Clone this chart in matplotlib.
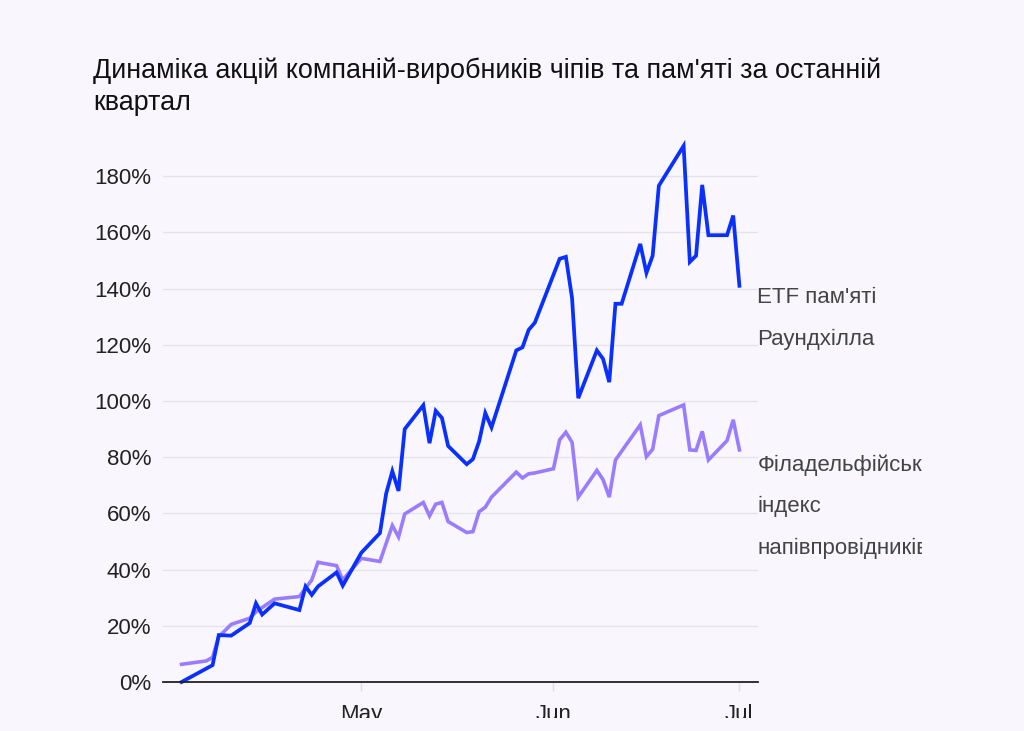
import pandas as pd
import matplotlib
matplotlib.use("Agg")
import matplotlib.pyplot as plt
from matplotlib.ticker import FuncFormatter
from matplotlib.transforms import Bbox, TransformedBbox

plt.rcParams['font.family'] = ['Liberation Sans', 'DejaVu Sans']

# дані (% зміни від початку кварталу)
etf_dates = ["04-02", "04-07", "04-08", "04-10", "04-13", "04-14", "04-15", "04-17",
             "04-21", "04-22", "04-23", "04-24", "04-27", "04-28",
             "05-01", "05-04", "05-05", "05-06", "05-07", "05-08", "05-11", "05-12",
             "05-13", "05-14", "05-15", "05-18", "05-19", "05-20", "05-21", "05-22",
             "05-26", "05-27", "05-28", "05-29",
             "06-02", "06-03", "06-04", "06-05", "06-08", "06-09", "06-10", "06-11",
             "06-12", "06-15", "06-16", "06-17", "06-18", "06-22", "06-23", "06-24",
             "06-25", "06-26", "06-29", "06-30", "07-01"]
etf_vals = [0, 6, 16.7, 16.5, 21, 28, 24, 28, 25.6, 34, 31, 34, 39, 34.3,
            46, 53, 67, 75, 68, 90, 98.5, 85, 96.5, 94, 84, 77.5, 79.3, 85.6, 95.7, 90.6,
            118, 119.1, 125.3, 127.9,
            150.6, 151.3, 136.6, 101, 118, 115, 106.7, 134.6, 134.6, 155.9, 145.6, 151.7,
            176.6, 190.8, 149.5, 151.7, 176.9, 159, 159, 166, 141]

sox_dates = ["04-02", "04-06", "04-07", "04-08", "04-10", "04-13", "04-14", "04-17",
             "04-21", "04-23", "04-24", "04-27", "04-28",
             "05-01", "05-04", "05-06", "05-07", "05-08", "05-11", "05-12", "05-13",
             "05-14", "05-15", "05-18", "05-19", "05-20", "05-21", "05-22",
             "05-26", "05-27", "05-28", "05-29",
             "06-01", "06-02", "06-03", "06-04", "06-05", "06-08", "06-09", "06-10",
             "06-11", "06-15", "06-16", "06-17", "06-18", "06-22", "06-23", "06-24",
             "06-25", "06-26", "06-29", "06-30", "07-01"]
sox_vals = [6.3, 7.5, 8.8, 16.1, 20.5, 22.7, 25, 29.5, 30.4, 36.3, 42.6, 41.4, 36.3,
            44, 42.9, 55.7, 51.6, 59.8, 63.9, 59.1, 63.3, 63.9, 57.1, 53.2, 53.5, 60.6,
            62.2, 65.8, 74.7, 72.6, 74.1, 74.4,
            75.9, 86.2, 88.9, 85.3, 65.8, 75.3, 72, 65.8, 79, 91.5, 80.2, 82.8, 94.8,
            98.6, 82.6, 82.4, 89.2, 79, 85.9, 93.3, 82.6]

etf_label = ["ETF пам'яті", "Раундхілла"]
sox_label = ["Філадельфійський", "індекс", "напівпровідників"]
title = "Динаміка акцій компаній-виробників чіпів та пам'яті за останній\nквартал"
month_ticks = ["2026-05-01", "2026-06-01", "2026-07-01"]
month_labels = ["May", "Jun", "Jul"]
yticks = list(range(0, 181, 20))

year = "2026-"
etf_x = pd.to_datetime([year + d for d in etf_dates])
sox_x = pd.to_datetime([year + d for d in sox_dates])

bg = "#f9f7fd"
blue = "#0a30ff"
purple = "#9a7dff"

fig = plt.figure(figsize=(10.24, 7.31), dpi=100, facecolor=bg)
ax = fig.add_axes([163 / 1024, 49 / 731, 595 / 1024, 562 / 731])
ax.set_facecolor(bg)

ax.plot(sox_x, sox_vals, color=purple, lw=2.6, solid_joinstyle="miter", clip_on=False, zorder=3)
ax.plot(etf_x, etf_vals, color=blue, lw=2.7, solid_joinstyle="miter", clip_on=False, zorder=4)

ax.set_xlim(pd.Timestamp("2026-03-30"), pd.Timestamp("2026-07-04"))
ax.set_ylim(0, 200)

ax.set_yticks(yticks)
ax.yaxis.set_major_formatter(FuncFormatter(lambda v, p: f"{v:.0f}%"))
ax.tick_params(axis="y", length=0, pad=8.5, labelsize=16, labelcolor="#222222")
ax.grid(axis="y", color="#e4e3ea", lw=1)
ax.set_axisbelow(True)

ax.set_xticks(pd.to_datetime(month_ticks))
ax.set_xticklabels(month_labels)
ax.tick_params(axis="x", length=6.5, width=1, color="#dddde2", pad=9,
               labelsize=16, labelcolor="#222222")

for s in ["top", "right", "left"]:
    ax.spines[s].set_visible(False)
ax.spines["bottom"].set_color("#222222")
ax.spines["bottom"].set_linewidth(1.3)
ax.spines["bottom"].set_zorder(5)

# підписи серій праворуч від кінців ліній
clip = TransformedBbox(Bbox([[0, 0], [922 / 1024, 1]]), fig.transFigure)
for lines, xs, vals, dy in [(etf_label, etf_x, etf_vals, -12),
                            (sox_label, sox_x, sox_vals, -15)]:
    for i, line in enumerate(lines):
        t = ax.annotate(line, xy=(xs[-1], vals[-1]), xytext=(18, dy - 42 * i),
                        textcoords="offset pixels", ha="left", va="center",
                        fontsize=16, color="#444444", annotation_clip=False)
        t.set_clip_box(clip)
        t.set_clip_on(True)

fig.text(93 / 1024, 1 - 110 / 731, title, ha="left", va="baseline",
         fontsize=19.4, color="#111111", linespacing=1.28)

fig.canvas.draw()
bottom_clip = TransformedBbox(Bbox([[0, 13 / 731], [1, 1]]), fig.transFigure)
for lab in ax.get_xticklabels():
    lab.set_clip_box(bottom_clip)
    lab.set_clip_on(True)

fig.savefig("out.png", dpi=100, facecolor=bg)
